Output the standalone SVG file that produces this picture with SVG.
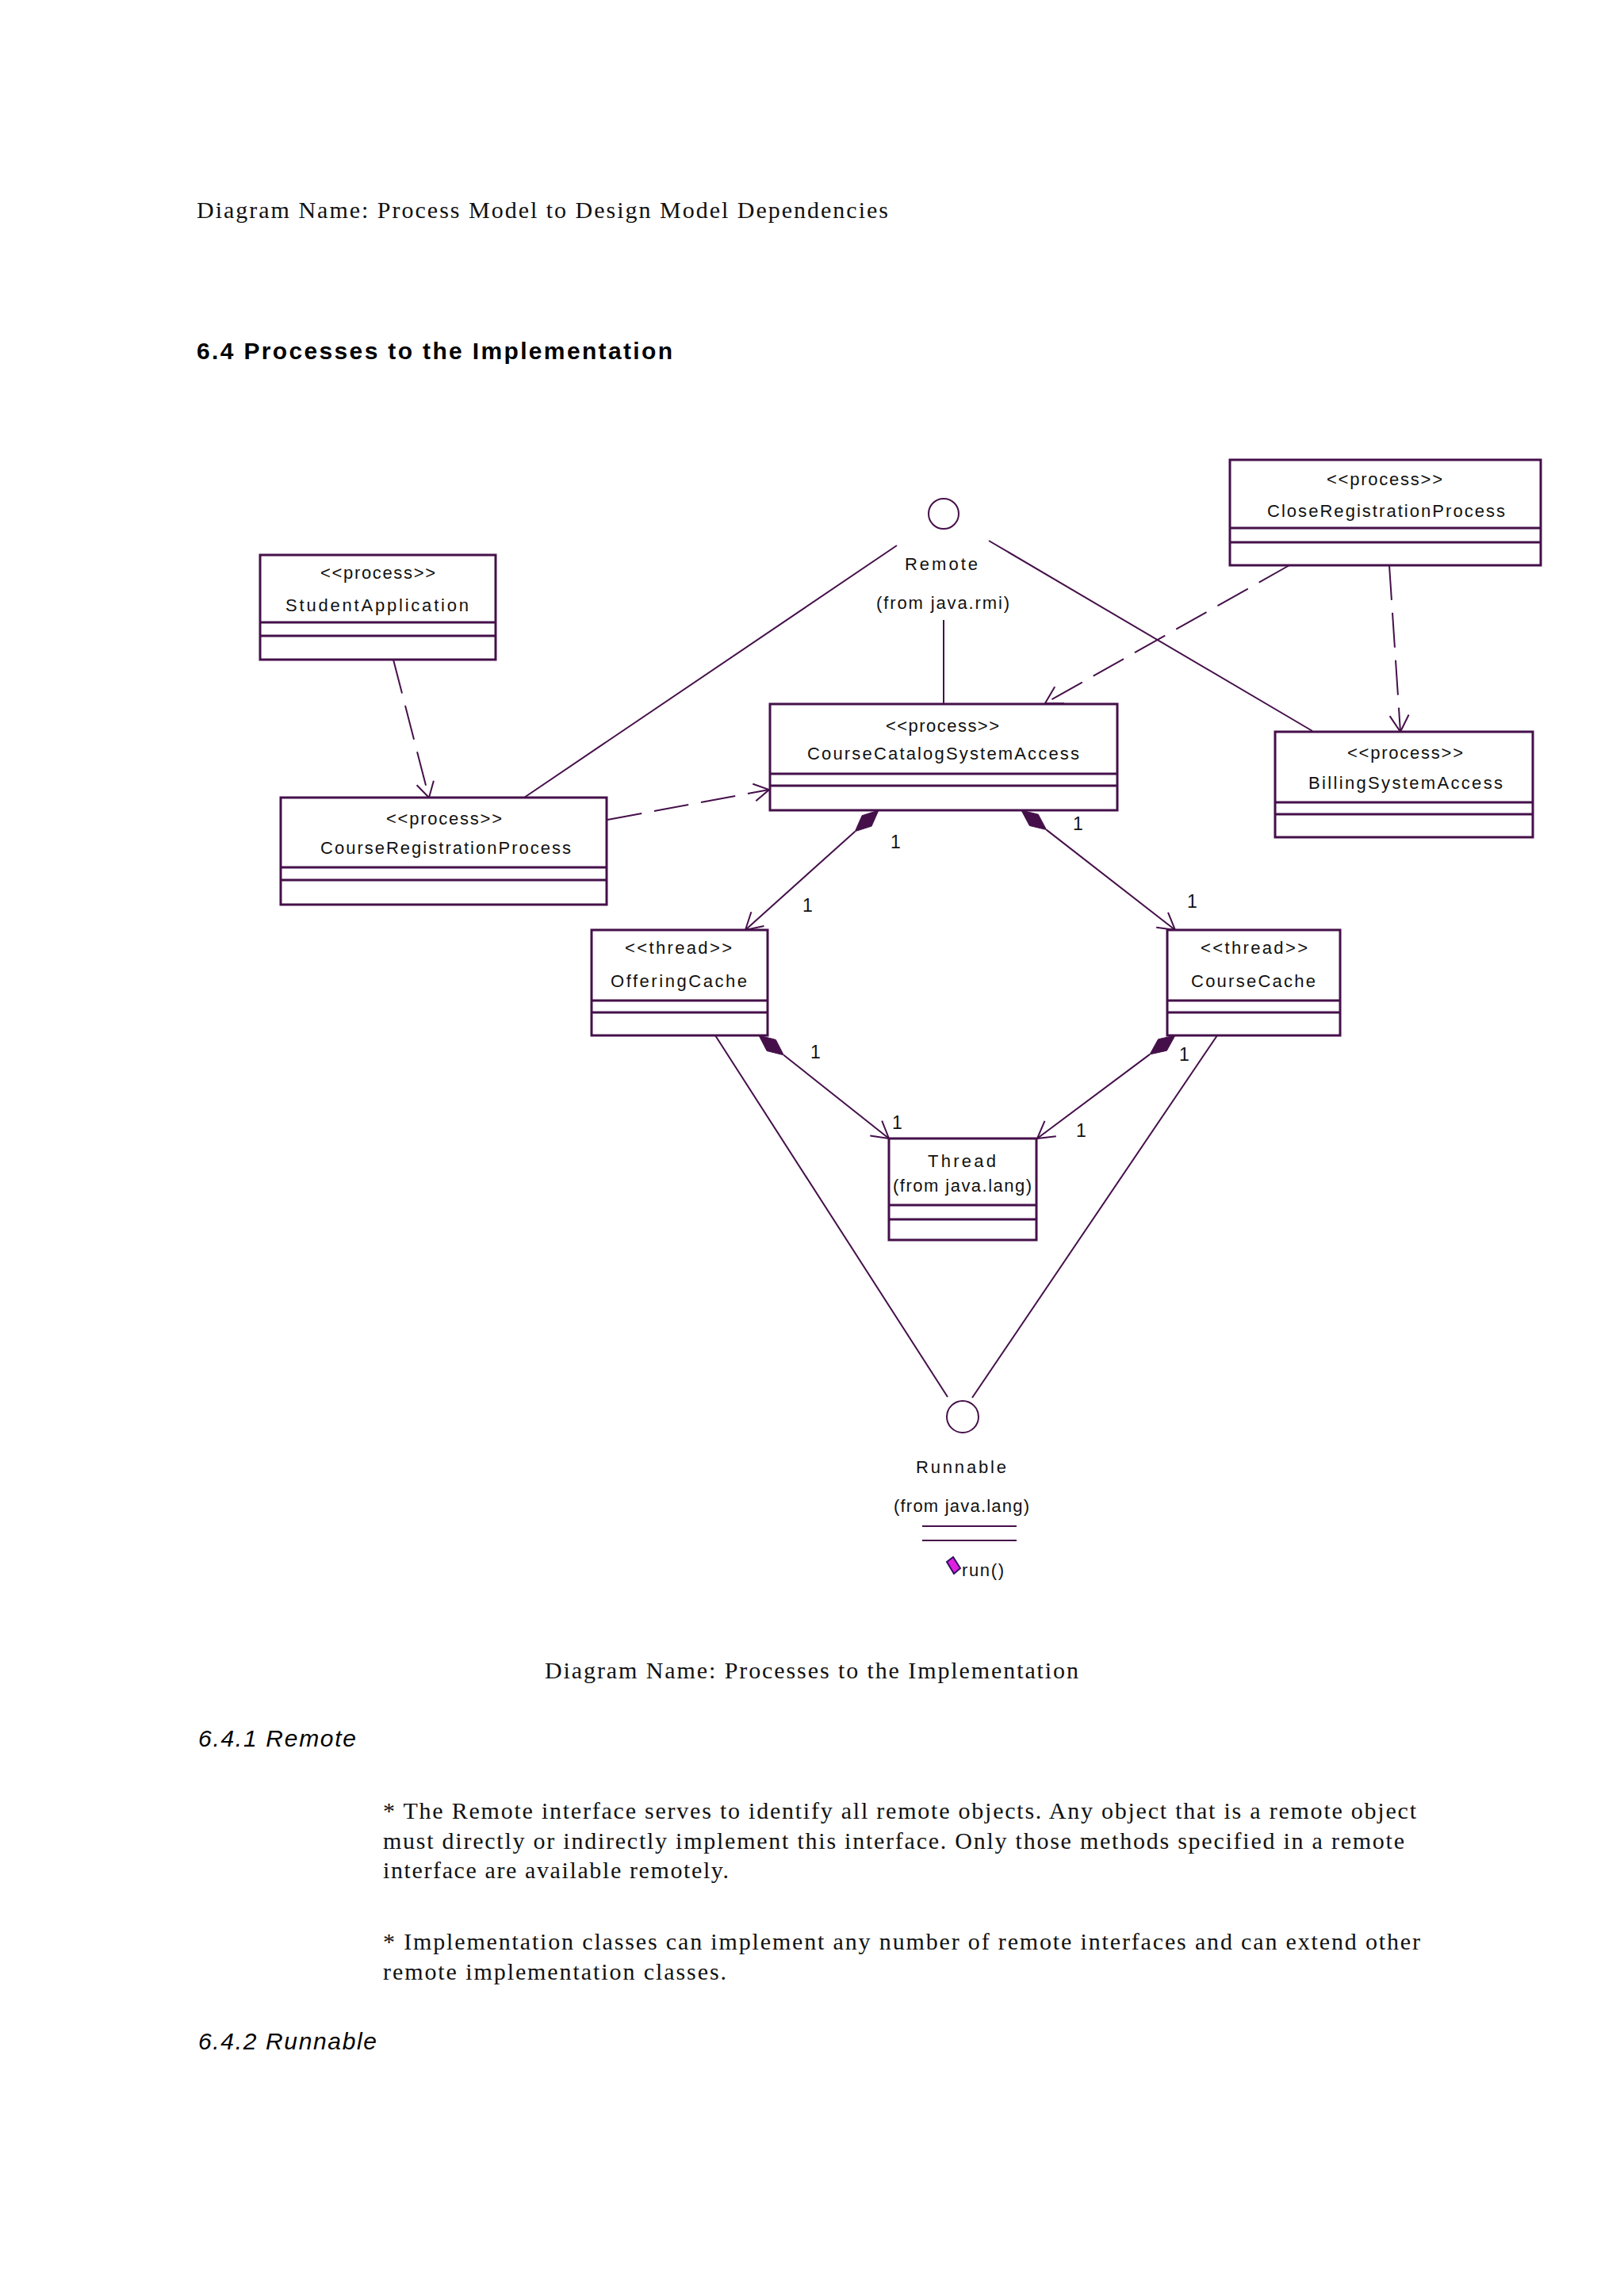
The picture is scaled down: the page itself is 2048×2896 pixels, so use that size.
<svg xmlns="http://www.w3.org/2000/svg" width="2048" height="2896" viewBox="0 0 2048 2896">
<style>
.box{fill:#ffffff;stroke:#45104a;stroke-width:3}
.div{stroke:#45104a;stroke-width:3}
.ln{fill:none;stroke:#45104a;stroke-width:2}
.dash{fill:none;stroke:#45104a;stroke-width:2;stroke-dasharray:44 16}
.ah{fill:none;stroke:#45104a;stroke-width:2}
.dia{fill:#45104a;stroke:#45104a;stroke-width:1}
.t{font-family:"Liberation Sans",Arial,sans-serif;font-size:22px;fill:#111}
.m{font-family:"Liberation Sans",Arial,sans-serif;font-size:23px;fill:#111}
.serif{font-family:"Liberation Serif","Times New Roman",serif;font-size:30px;fill:#111}
.h{font-family:"Liberation Sans",Arial,sans-serif;font-size:30px;font-weight:bold;fill:#000}
.hi{font-family:"Liberation Sans",Arial,sans-serif;font-size:30px;font-style:italic;fill:#000}
</style>
<rect x="0" y="0" width="2048" height="2896" fill="#ffffff"/>

<text class="serif" x="248" y="275" textLength="872">Diagram Name:  Process Model to Design Model Dependencies</text>
<text class="h" x="248" y="453" textLength="600">6.4 Processes  to the Implementation</text>

<g id="connectors">
  <line class="dash" x1="496" y1="832" x2="541" y2="1006"/>
  <polyline class="ah" points="546.9,984.8 541,1006 525.6,990.3"/>
  <line class="dash" x1="766" y1="1034" x2="970" y2="996"/>
  <polyline class="ah" points="949.3,988.7 970,996 953.3,1010.3"/>
  <line class="dash" x1="1626" y1="713" x2="1318" y2="887"/>
  <polyline class="ah" points="1342,887.2 1318,887 1330.2,866.3"/>
  <line class="dash" x1="1752" y1="713" x2="1766" y2="923"/>
  <polyline class="ah" points="1776.6,901.5 1766,923 1752.6,903.1"/>
  <line class="ln" x1="1131" y1="688" x2="661" y2="1006"/>
  <line class="ln" x1="1247" y1="682" x2="1655" y2="922"/>
  <line class="ln" x1="1190" y1="782" x2="1190" y2="888"/>
  <line class="ln" x1="902" y1="1306" x2="1195" y2="1762"/>
  <line class="ln" x1="1535" y1="1306" x2="1226" y2="1763"/>
  <polygon class="dia" points="1108,1022 1099.1,1042.1 1078.3,1048.7 1087.1,1028.7"/>
  <line class="ln" x1="1078.3" y1="1048.7" x2="940" y2="1173"/>
  <polyline class="ah" points="963.5,1168 940,1173 947.4,1150.2"/>
  <polygon class="dia" points="1288,1022 1309.3,1027.2 1319.6,1046.6 1298.3,1041.4"/>
  <line class="ln" x1="1319.6" y1="1046.6" x2="1482" y2="1173"/>
  <polyline class="ah" points="1473,1150.8 1482,1173 1458.2,1169.7"/>
  <polygon class="dia" points="957,1306 978.3,1311.4 988.3,1330.8 967.1,1325.5"/>
  <line class="ln" x1="988.3" y1="1330.8" x2="1121" y2="1436"/>
  <polyline class="ah" points="1112.2,1413.7 1121,1436 1097.3,1432.5"/>
  <polygon class="dia" points="1482,1306 1471.4,1325.2 1450,1329.9 1460.6,1310.8"/>
  <line class="ln" x1="1450" y1="1329.9" x2="1308" y2="1436"/>
  <polyline class="ah" points="1331.8,1433.2 1308,1436 1317.5,1413.9"/>
  <text class="m" x="1123" y="1070">1</text>
  <text class="m" x="1012" y="1150">1</text>
  <text class="m" x="1353" y="1047">1</text>
  <text class="m" x="1497" y="1145">1</text>
  <text class="m" x="1022" y="1335">1</text>
  <text class="m" x="1487" y="1338">1</text>
  <text class="m" x="1125" y="1424">1</text>
  <text class="m" x="1357" y="1434">1</text>
</g>

<g id="Remote">
  <circle class="ln" cx="1190" cy="648" r="19"/>
  <text class="t" x="1141" y="719" textLength="92">Remote</text>
  <text class="t" x="1105" y="768" textLength="168">(from java.rmi)</text>
</g>

<g id="StudentApplication">
  <rect class="box" x="328" y="700" width="297" height="132"/>
  <line class="div" x1="328" y1="785" x2="625" y2="785"/>
  <line class="div" x1="328" y1="802" x2="625" y2="802"/>
  <text class="t" x="404" y="730" textLength="145">&lt;&lt;process&gt;&gt;</text>
  <text class="t" x="360" y="771" textLength="231">StudentApplication</text>
</g>

<g id="CourseRegistrationProcess">
  <rect class="box" x="354" y="1006" width="411" height="135"/>
  <line class="div" x1="354" y1="1094" x2="765" y2="1094"/>
  <line class="div" x1="354" y1="1110" x2="765" y2="1110"/>
  <text class="t" x="487" y="1040" textLength="146">&lt;&lt;process&gt;&gt;</text>
  <text class="t" x="404" y="1077" textLength="316">CourseRegistrationProcess</text>
</g>

<g id="CourseCatalogSystemAccess">
  <rect class="box" x="971" y="888" width="438" height="134"/>
  <line class="div" x1="971" y1="976" x2="1409" y2="976"/>
  <line class="div" x1="971" y1="991" x2="1409" y2="991"/>
  <text class="t" x="1117" y="923" textLength="143">&lt;&lt;process&gt;&gt;</text>
  <text class="t" x="1018" y="958" textLength="343">CourseCatalogSystemAccess</text>
</g>

<g id="CloseRegistrationProcess">
  <rect class="box" x="1551" y="580" width="392" height="133"/>
  <line class="div" x1="1551" y1="666" x2="1943" y2="666"/>
  <line class="div" x1="1551" y1="684" x2="1943" y2="684"/>
  <text class="t" x="1673" y="612" textLength="146">&lt;&lt;process&gt;&gt;</text>
  <text class="t" x="1598" y="652" textLength="300">CloseRegistrationProcess</text>
</g>

<g id="BillingSystemAccess">
  <rect class="box" x="1608" y="923" width="325" height="133"/>
  <line class="div" x1="1608" y1="1012" x2="1933" y2="1012"/>
  <line class="div" x1="1608" y1="1027" x2="1933" y2="1027"/>
  <text class="t" x="1699" y="957" textLength="146">&lt;&lt;process&gt;&gt;</text>
  <text class="t" x="1650" y="995" textLength="245">BillingSystemAccess</text>
</g>

<g id="OfferingCache">
  <rect class="box" x="746" y="1173" width="222" height="133"/>
  <line class="div" x1="746" y1="1262" x2="968" y2="1262"/>
  <line class="div" x1="746" y1="1277" x2="968" y2="1277"/>
  <text class="t" x="788" y="1203" textLength="135">&lt;&lt;thread&gt;&gt;</text>
  <text class="t" x="770" y="1245" textLength="172">OfferingCache</text>
</g>

<g id="CourseCache">
  <rect class="box" x="1472" y="1173" width="218" height="133"/>
  <line class="div" x1="1472" y1="1262" x2="1690" y2="1262"/>
  <line class="div" x1="1472" y1="1277" x2="1690" y2="1277"/>
  <text class="t" x="1514" y="1203" textLength="135">&lt;&lt;thread&gt;&gt;</text>
  <text class="t" x="1502" y="1245" textLength="157">CourseCache</text>
</g>

<g id="Thread">
  <rect class="box" x="1121" y="1436" width="186" height="128"/>
  <line class="div" x1="1121" y1="1520" x2="1307" y2="1520"/>
  <line class="div" x1="1121" y1="1538" x2="1307" y2="1538"/>
  <text class="t" x="1170" y="1472" textLength="86">Thread</text>
  <text class="t" x="1126" y="1503" textLength="175">(from java.lang)</text>
</g>

<g id="Runnable">
  <circle class="ln" cx="1214" cy="1787" r="20"/>
  <text class="t" x="1155" y="1858" textLength="114">Runnable</text>
  <text class="t" x="1127" y="1907" textLength="171">(from java.lang)</text>
  <line class="ln" x1="1163" y1="1925" x2="1282" y2="1925"/>
  <line class="ln" x1="1163" y1="1943" x2="1282" y2="1943"/>
  <polygon points="1194,1970 1202,1964 1211,1978 1203,1985" fill="#e020e0" stroke="#301060" stroke-width="2"/>
  <text class="t" x="1213" y="1988" textLength="53">run()</text>
</g>

<text class="serif" x="687" y="2117" textLength="673">Diagram Name:  Processes to the Implementation</text>
<text class="hi" x="250" y="2203" textLength="199">6.4.1 Remote</text>
<text class="serif" x="483" y="2294" textLength="1303">* The Remote  interface serves to identify all remote objects. Any object that is a remote object</text>
<text class="serif" x="483" y="2332" textLength="1288">must directly or indirectly implement  this interface. Only those methods specified  in a remote</text>
<text class="serif" x="483" y="2369" textLength="436">interface are available remotely.</text>
<text class="serif" x="483" y="2459" textLength="1308">* Implementation  classes can implement  any number of remote interfaces and can extend other</text>
<text class="serif" x="483" y="2497" textLength="433">remote implementation  classes.</text>
<text class="hi" x="250" y="2585" textLength="225">6.4.2 Runnable</text>
</svg>
